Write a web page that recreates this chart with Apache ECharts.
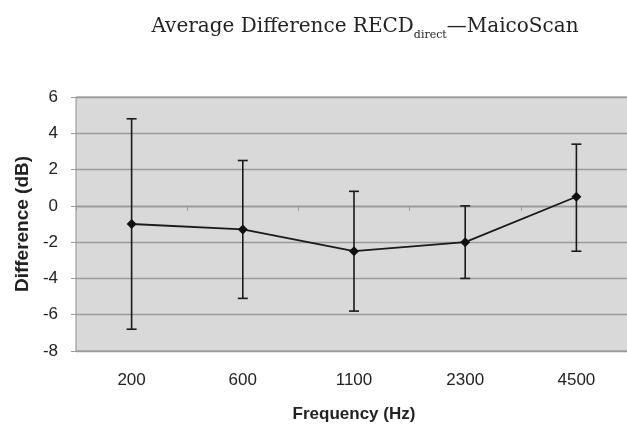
<!DOCTYPE html>
<html>
<head>
<meta charset="utf-8">
<script src="https://cdn.jsdelivr.net/npm/echarts@6/dist/echarts.min.js"></script>
<style>html,body{margin:0;padding:0;background:#fff;}#c{width:627px;height:424px;}</style>
</head>
<body>
<div id="c"></div>
<script>
var categories = ['200', '600', '1100', '2300', '4500'];
var meanValues = [-1.0, -1.3, -2.5, -2.0, 0.5];
var upperValues = [4.8, 2.5, 0.8, 0.0, 3.4];
var lowerValues = [-6.8, -5.1, -5.8, -4.0, -2.5];
var yTicks = { min: -8, max: 6, interval: 2 };

var chart = echarts.init(document.getElementById('c'), null, { renderer: 'canvas' });

var errData = categories.map(function (c, i) { return [i, lowerValues[i], upperValues[i]]; });

var option = {
  animation: false,
  backgroundColor: '#ffffff',
  title: {
    text: '{m|Average Difference RECD}{s|direct}{m|—MaicoScan}',
    left: 360,
    top: 6,
    textAlign: 'center',
    textStyle: {
      fontWeight: 'normal',
      rich: {
        m: { fontFamily: 'DejaVu Serif', fontSize: 20, fontWeight: 'normal', color: '#222', verticalAlign: 'bottom', lineHeight: 26 },
        s: { fontFamily: 'DejaVu Serif', fontSize: 11, fontWeight: 'normal', color: '#222', verticalAlign: 'bottom', padding: [0, 0, -4, 0], lineHeight: 26 }
      }
    }
  },
  grid: { left: 76, top: 97, width: 556, height: 254, outerBoundsMode: 'none', containLabel: false, show: true, backgroundColor: '#d9d9d9', borderColor: '#8f8f8f', borderWidth: 1 },
  xAxis: [{
    type: 'category',
    data: categories,
    position: 'bottom',
    axisLine: { show: false, onZero: false },
    axisTick: { show: false },
    axisLabel: { color: '#222', fontFamily: 'Liberation Sans', fontSize: 17, margin: 21 },
    name: 'Frequency (Hz)',
    nameLocation: 'middle',
    nameGap: 55,
    nameTextStyle: { fontFamily: 'Liberation Sans', fontSize: 17, fontWeight: 'bold', color: '#222' }
  }, {
    type: 'category',
    data: categories,
    position: 'bottom',
    axisLine: { show: true, onZero: true, onZeroAxisIndex: 0, lineStyle: { color: '#999999', width: 1.3 } },
    axisTick: { show: true, inside: false, length: 5, lineStyle: { color: '#999999' } },
    axisLabel: { show: false }
  }],
  yAxis: {
    type: 'value',
    min: yTicks.min,
    max: yTicks.max,
    interval: yTicks.interval,
    axisLine: { show: false },
    axisTick: { show: true, length: 5, lineStyle: { color: '#9a9a9a' } },
    axisLabel: { color: '#222', fontFamily: 'Liberation Sans', fontSize: 17, margin: 18 },
    splitLine: { show: true, lineStyle: { color: '#9c9c9c', width: 1.3 } },
    name: 'Difference (dB)',
    nameLocation: 'middle',
    nameGap: 44,
    nameTextStyle: { fontFamily: 'Liberation Sans', fontSize: 19, fontWeight: 'bold', color: '#222' }
  },
  series: [{
    type: 'custom',
    xAxisIndex: 0,
    data: errData,
    z: 3,
    renderItem: function (params, api) {
      var lo = api.coord([api.value(0), api.value(1)]);
      var hi = api.coord([api.value(0), api.value(2)]);
      var w = 5;
      var st = { stroke: '#1a1a1a', lineWidth: 1.6 };
      return {
        type: 'group',
        children: [
          { type: 'line', shape: { x1: hi[0], y1: hi[1], x2: lo[0], y2: lo[1] }, style: st },
          { type: 'line', shape: { x1: hi[0] - w, y1: hi[1], x2: hi[0] + w, y2: hi[1] }, style: st },
          { type: 'line', shape: { x1: lo[0] - w, y1: lo[1], x2: lo[0] + w, y2: lo[1] }, style: st }
        ]
      };
    }
  }, {
    type: 'line',
    xAxisIndex: 0,
    data: meanValues,
    z: 4,
    symbol: 'diamond',
    symbolSize: 10,
    lineStyle: { color: '#1a1a1a', width: 1.8 },
    itemStyle: { color: '#111' }
  }]
};
chart.setOption(option);
</script>
</body>
</html>
